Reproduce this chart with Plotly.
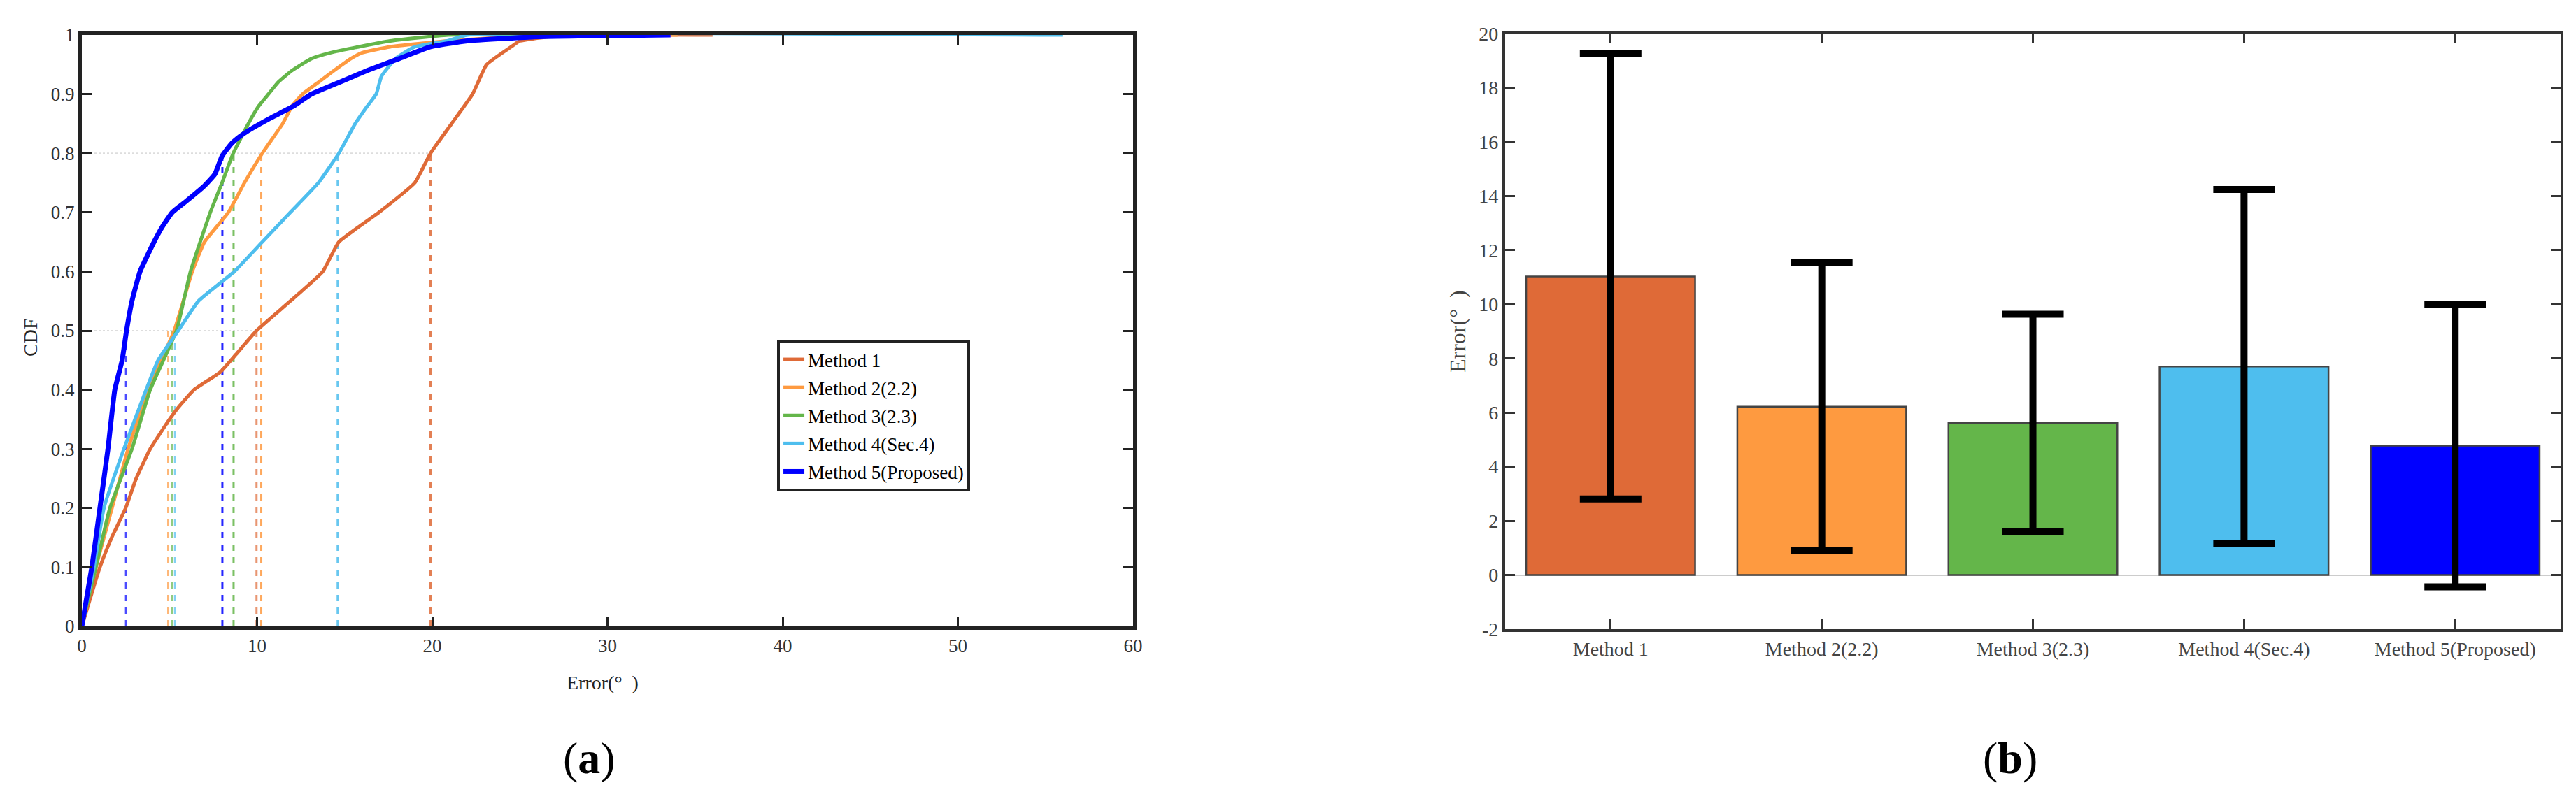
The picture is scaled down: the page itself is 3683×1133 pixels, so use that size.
import plotly.graph_objects as go

# ---- data: CDF curves (error in degrees vs. cumulative probability) ----
methods = ["Method 1", "Method 2(2.2)", "Method 3(2.3)", "Method 4(Sec.4)", "Method 5(Proposed)"]
colors = ["#DF6A37", "#FE9A40", "#64B64A", "#4EBEEE", "#0000FF"]

m1_err = [0, 1.03, 1.7, 2.5, 3.1, 3.9, 5.0, 5.5, 6.4, 7.9, 8.8, 9.97, 11.9, 13.75, 14.67,
          16.96, 19.0, 19.9, 21.1, 22.3, 23.1, 24.5, 25.0, 27.7, 36.0]
m1_cdf = [0, 0.1, 0.15, 0.2, 0.25, 0.3, 0.35, 0.37, 0.4, 0.43, 0.46, 0.5, 0.55, 0.6, 0.65,
          0.7, 0.75, 0.8, 0.85, 0.9, 0.95, 0.98, 0.99, 1.0, 1.0]

m2_err = [0, 0.8, 1.72, 2.64, 3.78, 5.27, 6.3, 7.0, 8.36, 9.28, 10.3, 11.46, 12.0, 12.6,
          13.5, 14.4, 15.35, 16.0, 17.6, 20.9, 26.6, 34.0]
m2_cdf = [0, 0.1, 0.2, 0.3, 0.4, 0.5, 0.6, 0.65, 0.7, 0.75, 0.8, 0.85, 0.88, 0.9,
          0.92, 0.94, 0.96, 0.97, 0.98, 0.99, 1.0, 1.0]

m3_err = [0, 0.8, 1.6, 2.86, 3.9, 5.4, 6.2, 7.33, 8.0, 8.64, 9.5, 10.1, 10.65, 11.2,
          12.0, 13.1, 14.2, 15.8, 17.6, 20.9, 26.6]
m3_cdf = [0, 0.1, 0.2, 0.3, 0.4, 0.5, 0.6, 0.7, 0.75, 0.8, 0.85, 0.88, 0.9, 0.92,
          0.94, 0.96, 0.97, 0.98, 0.99, 1.0, 1.0]

m4_err = [0, 0.69, 1.26, 2.4, 3.67, 4.35, 5.5, 6.65, 8.7, 10.3, 11.9, 13.5, 14.67, 15.6,
          16.3, 16.8, 17.1, 17.9, 19.0, 20.85, 22.0, 56.0]
m4_cdf = [0, 0.1, 0.2, 0.3, 0.4, 0.45, 0.5, 0.55, 0.6, 0.65, 0.7, 0.75, 0.8, 0.85,
          0.88, 0.9, 0.93, 0.96, 0.98, 0.99, 1.0, 1.0]

m5_err = [0, 0.57, 1.03, 1.49, 1.88, 2.3, 2.55, 2.86, 3.32, 4.12, 4.58, 5.16, 6.0, 7.0,
          7.6, 8.0, 8.5, 9.0, 9.6, 10.8, 12.1, 13.1, 14.7, 16.3, 18.1, 19.9, 22.0, 26.0, 33.6]
m5_cdf = [0, 0.1, 0.2, 0.3, 0.4, 0.45, 0.5, 0.55, 0.6, 0.65, 0.675, 0.7, 0.72, 0.745,
          0.765, 0.795, 0.815, 0.828, 0.84, 0.86, 0.88, 0.9, 0.92, 0.94, 0.96, 0.98, 0.99, 0.997, 1.0]

# median (CDF = 0.5) and 80th percentile markers
median_err = [9.97, 4.93, 5.14, 5.32, 2.52]
p80_err = [19.9, 10.24, 8.66, 14.6, 8.02]

# ---- data: mean error with std bars ----
mean_err = [11.03, 6.22, 5.61, 7.70, 4.78]
std_err = [8.22, 5.33, 4.02, 6.54, 5.22]
bar_ticks = [-2, 0, 2, 4, 6, 8, 10, 12, 14, 16, 18, 20]
bar_ticklabels = ["-2", "0", "2", "4", "6", "8", "10", "12", "14", "16", "18", "20"]

serif = "Liberation Serif"
fig = go.Figure()

# reference dotted guides
fig.add_trace(go.Scatter(x=[0, median_err[0]], y=[0.5, 0.5], mode="lines",
                         line=dict(color="#DDDDDD", width=2, dash="dot"),
                         showlegend=False, hoverinfo="skip"))
fig.add_trace(go.Scatter(x=[0, p80_err[0]], y=[0.8, 0.8], mode="lines",
                         line=dict(color="#DDDDDD", width=2, dash="dot"),
                         showlegend=False, hoverinfo="skip"))

for i in range(5):
    fig.add_trace(go.Scatter(x=[median_err[i], median_err[i]], y=[0, 0.5], mode="lines",
                             line=dict(color=colors[i], width=3, dash="dash"),
                             opacity=0.7, showlegend=False, hoverinfo="skip"))
    fig.add_trace(go.Scatter(x=[p80_err[i], p80_err[i]], y=[0, 0.8], mode="lines",
                             line=dict(color=colors[i], width=3, dash="dash"),
                             opacity=0.85, showlegend=False, hoverinfo="skip"))

curves = [(m1_err, m1_cdf), (m2_err, m2_cdf), (m3_err, m3_cdf), (m4_err, m4_cdf), (m5_err, m5_cdf)]
for i, (xs, ys) in enumerate(curves):
    fig.add_trace(go.Scatter(
        x=xs, y=ys, mode="lines", name=methods[i],
        legendgroup=str(i),
        line=dict(color=colors[i], width=7 if i == 4 else 5, shape="spline", smoothing=0.4),
    ))

# bar chart with error bars
fig.add_trace(go.Bar(
    x=methods, y=mean_err,
    xaxis="x2", yaxis="y2",
    marker=dict(color=colors, line=dict(color="#444444", width=2.5)),
    error_y=dict(type="data", array=std_err, visible=True,
                 color="black", thickness=10, width=44),
    showlegend=False,
))

fig.update_layout(
    width=3683, height=1133,
    margin=dict(l=0, r=0, t=0, b=0, autoexpand=False),
    paper_bgcolor="white", plot_bgcolor="white",
    font=dict(family=serif, color="#222222"),
    bargap=0.2,
    xaxis=dict(domain=[0.0296, 0.4377], range=[0, 60], dtick=10, automargin=False,
               showgrid=False, zeroline=False,
               showline=True, linecolor="#222222", linewidth=5, mirror="ticks",
               ticks="inside", ticklen=14, tickwidth=3, tickcolor="#222222",
               tickfont=dict(size=27, family=serif, color="#333333")),
    yaxis=dict(domain=[0.2162, 0.9629], range=[0, 1], dtick=0.1, automargin=False,
               showgrid=False, zeroline=False,
               showline=True, linecolor="#222222", linewidth=5, mirror="ticks",
               ticks="inside", ticklen=14, tickwidth=3, tickcolor="#222222",
               tickfont=dict(size=27, family=serif, color="#333333")),
    xaxis2=dict(domain=[0.5821, 0.9919], anchor="y2", range=[-0.5, 4.5], automargin=False,
                showgrid=False, zeroline=False,
                showline=True, linecolor="#333333", linewidth=4, mirror="ticks",
                ticks="inside", ticklen=14, tickwidth=3, tickcolor="#333333",
                tickfont=dict(size=28, family=serif, color="#444444")),
    yaxis2=dict(domain=[0.2127, 0.9647], anchor="x2", range=[-2, 20], automargin=False,
                tickvals=bar_ticks, ticktext=bar_ticklabels,
                showgrid=False, zeroline=True, zerolinecolor="#CCCCCC", zerolinewidth=2,
                showline=True, linecolor="#333333", linewidth=4, mirror="ticks",
                ticks="inside", ticklen=14, tickwidth=3, tickcolor="#333333",
                tickfont=dict(size=28, family=serif, color="#444444")),
    legend=dict(x=0.2995, y=0.5781, xanchor="left", yanchor="top",
                bgcolor="white", bordercolor="#222222", borderwidth=4,
                font=dict(size=27, family=serif, color="#000000"),
                tracegroupgap=2),
)

annotations = [
    dict(text="CDF", x=35 / 3683, y=1 - 475 / 1133, textangle=-90, font=dict(size=28)),
    dict(text="Error(°  )", x=853 / 3683, y=1 - 968 / 1133, font=dict(size=28)),
    dict(text="Error(°  )", x=2076 / 3683, y=1 - 466 / 1133, textangle=-90,
         font=dict(size=32, color="#444444")),
    dict(text="(<b>a</b>)", x=834 / 3683, y=1 - 1076 / 1133, font=dict(size=64, color="black")),
    dict(text="(<b>b</b>)", x=2866 / 3683, y=1 - 1076 / 1133, font=dict(size=64, color="black")),
]
for a in annotations:
    a.update(xref="paper", yref="paper", showarrow=False, xanchor="center", yanchor="middle")
    a["font"].setdefault("family", serif)
fig.update_layout(annotations=annotations)

fig.write_html("out.html")
